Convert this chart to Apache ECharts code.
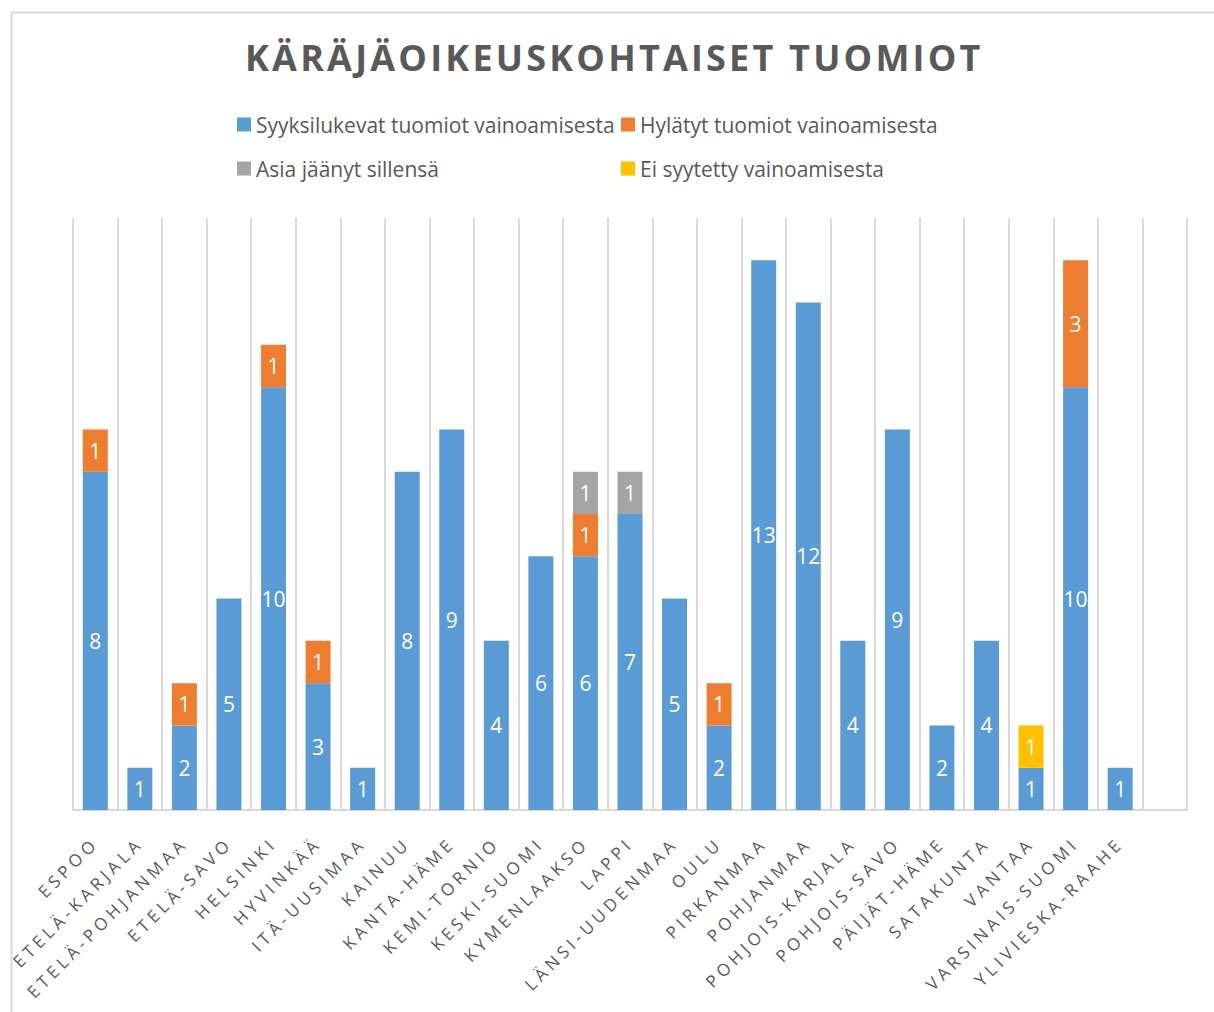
<!DOCTYPE html>
<html>
<head>
<meta charset="utf-8">
<script src="https://cdn.jsdelivr.net/npm/echarts@6/dist/echarts.min.js"></script>
<style>
  html, body { margin: 0; padding: 0; background: #fff; }
  #main { width: 1214px; height: 1012px; }
  /* Excel-style tracking on the category labels and the title */
  #main text[style*="17px"] { letter-spacing: 4.3px; }
  #main text[style*="36px"] { letter-spacing: 3.2px; }
</style>
</head>
<body>
<div id="main"></div>
<script>
// categories (last one is an empty slot, as in the original)
const courts = ['ESPOO', 'ETELÄ-KARJALA', 'ETELÄ-POHJANMAA', 'ETELÄ-SAVO', 'HELSINKI', 'HYVINKÄÄ',
  'ITÄ-UUSIMAA', 'KAINUU', 'KANTA-HÄME', 'KEMI-TORNIO', 'KESKI-SUOMI', 'KYMENLAAKSO', 'LAPPI',
  'LÄNSI-UUDENMAA', 'OULU', 'PIRKANMAA', 'POHJANMAA', 'POHJOIS-KARJALA', 'POHJOIS-SAVO',
  'PÄIJÄT-HÄME', 'SATAKUNTA', 'VANTAA', 'VARSINAIS-SUOMI', 'YLIVIESKA-RAAHE', ''];

const convicted = [8, 1, 2, 5, 10, 3, 1, 8, 9, 4, 6, 6, 7, 5, 2, 13, 12, 4, 9, 2, 4, 1, 10, 1, null];
const dismissed = [1, null, 1, null, 1, 1, null, null, null, null, null, 1, null, null, 1, null, null, null, null, null, null, null, 3, null, null];
const leftPending = [null, null, null, null, null, null, null, null, null, null, null, 1, 1, null, null, null, null, null, null, null, null, null, null, null, null];
const notCharged = [null, null, null, null, null, null, null, null, null, null, null, null, null, null, null, null, null, null, null, null, null, 1, null, null, null];

const seriesNames = ['Syyksilukevat tuomiot vainoamisesta', 'Hylätyt tuomiot vainoamisesta',
  'Asia jäänyt sillensä', 'Ei syytetty vainoamisesta'];
const colors = ['#5B9BD5', '#ED7D31', '#A5A5A5', '#FFC000'];

const FONT = 'Open Sans';
const chart = echarts.init(document.getElementById('main'), null, { renderer: 'svg' });

function bar(name, data, color) {
  return {
    name: name,
    type: 'bar',
    stack: 'all',
    data: data,
    barWidth: 25,
    itemStyle: { color: color },
    label: {
      show: true,
      position: 'inside',
      color: '#fff',
      fontFamily: FONT,
      fontSize: 21
    }
  };
}

const legendText = { color: '#595959', fontFamily: FONT, fontSize: 21 };

chart.setOption({
  animation: false,
  color: colors,
  title: {
    text: 'KÄRÄJÄOIKEUSKOHTAISET TUOMIOT',
    left: 240,
    top: 34,
    textStyle: { color: '#595959', fontFamily: FONT, fontWeight: 'bold', fontSize: 36 }
  },
  legend: [{
    data: [seriesNames[0], seriesNames[2]],
    orient: 'vertical',
    left: 232,
    top: 109,
    itemWidth: 14,
    itemHeight: 14,
    itemGap: 23,
    icon: 'rect',
    textStyle: legendText
  }, {
    data: [seriesNames[1], seriesNames[3]],
    orient: 'vertical',
    left: 616,
    top: 109,
    itemWidth: 14,
    itemHeight: 14,
    itemGap: 23,
    icon: 'rect',
    textStyle: legendText
  }],
  graphic: [{
    type: 'rect',
    left: 9,
    top: 10,
    shape: { width: 1220, height: 1020 },
    style: { fill: 'none', stroke: '#d9d9d9', lineWidth: 2 },
    silent: true
  }],
  grid: { left: 73, right: 27, top: 218, bottom: 202, containLabel: false },
  xAxis: {
    type: 'category',
    data: courts,
    axisLine: { lineStyle: { color: '#d9d9d9', width: 2 } },
    axisTick: { show: false },
    splitLine: { show: true, lineStyle: { color: '#d9d9d9', width: 2 } },
    axisLabel: {
      interval: 0,
      rotate: 45,
      margin: 30,
      color: '#595959',
      fontFamily: FONT,
      fontSize: 17
    }
  },
  yAxis: {
    type: 'value',
    min: 0,
    max: 14,
    show: false,
    splitLine: { show: false }
  },
  series: [
    bar(seriesNames[0], convicted, colors[0]),
    bar(seriesNames[1], dismissed, colors[1]),
    bar(seriesNames[2], leftPending, colors[2]),
    bar(seriesNames[3], notCharged, colors[3])
  ]
});
</script>
</body>
</html>
